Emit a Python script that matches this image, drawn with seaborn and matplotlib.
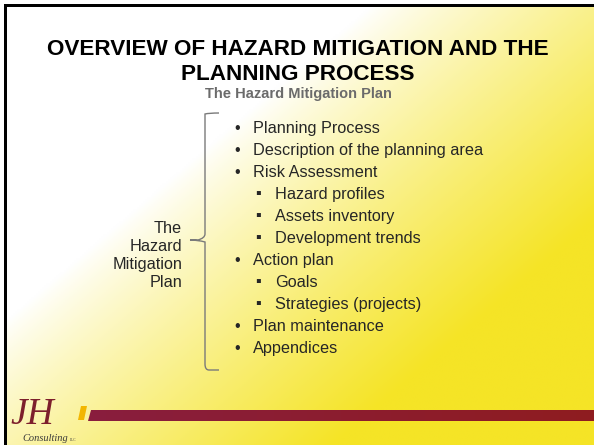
import numpy as np
import matplotlib
matplotlib.use("Agg")
import matplotlib.pyplot as plt
from matplotlib.patches import Polygon, Rectangle, PathPatch
from matplotlib.path import Path
import seaborn as sns

# slide content
TITLE_LINES = ["OVERVIEW OF HAZARD MITIGATION AND THE", "PLANNING PROCESS"]
SUBTITLE = "The Hazard Mitigation Plan"
LEFT_LABEL = ["The", "Hazard", "Mitigation", "Plan"]
ITEMS = ["Planning Process", "Description of the planning area", "Risk Assessment",
         "Hazard profiles", "Assets inventory", "Development trends", "Action plan",
         "Goals", "Strategies (projects)", "Plan maintenance", "Appendices"]
LEVELS = [0, 0, 0, 1, 1, 1, 0, 1, 1, 0, 0]

W, H = 594, 445
sns.set_style("white")
plt.rcParams['font.family'] = ['Liberation Sans', 'DejaVu Sans']

fig = plt.figure(figsize=(W / 100, H / 100), dpi=100)
ax = fig.add_axes([0, 0, 1, 1])
ax.set_xlim(0, W)
ax.set_ylim(H, 0)
ax.axis('off')

# white -> yellow background, lighter top-left
xx, yy = np.meshgrid(np.linspace(0, 1, 300), np.linspace(0, 1, 225))
s = 0.75 * xx + 0.65 * yy
t = np.clip((s - 0.47) / 0.6, 0, 1) ** 0.85
white = np.array([1.0, 1.0, 1.0])
yellow = np.array([245, 228, 38]) / 255
img = white[None, None, :] * (1 - t[..., None]) + yellow[None, None, :] * t[..., None]
ax.imshow(img, extent=[4, W, H, 4], aspect='auto', zorder=0)

# black frame on top and left
ax.add_patch(Rectangle((4, 4), W - 4, 3, color='black', lw=0, zorder=1))
ax.add_patch(Rectangle((4, 4), 3, H - 4, color='black', lw=0, zorder=1))

# titles
ax.text(298, 55, TITLE_LINES[0], ha='center', va='baseline', fontsize=16.2,
        fontweight='bold', color='black')
ax.text(298, 80, TITLE_LINES[1], ha='center', va='baseline', fontsize=16.2,
        fontweight='bold', color='black')
ax.text(298, 98, SUBTITLE, ha='center', va='baseline', fontsize=10.5,
        fontweight='bold', color='#6b6b6b')

# bullet list
y0, dy = 127, 22
for i, (item, lev) in enumerate(zip(ITEMS, LEVELS)):
    yb = y0 + dy * i + 6
    if lev == 0:
        ax.text(237, yb, "\u2022", ha='center', va='baseline', fontsize=11.7)
        ax.text(253, yb, item, ha='left', va='baseline', fontsize=11.7)
    else:
        ax.text(258, yb - 1, "\u25aa", ha='center', va='baseline', fontsize=11.7)
        ax.text(275, yb, item, ha='left', va='baseline', fontsize=11.7)

# left label
for i, line in enumerate(LEFT_LABEL):
    ax.text(182, 227 + 18 * i + 6, line, ha='right', va='baseline', fontsize=11.7)

# curly bracket
verts = [(219, 113), (209, 113), (205, 114), (205, 120),
         (205, 234), (205, 238), (198, 240), (190, 240),
         (198, 240), (205, 242), (205, 246),
         (205, 364), (205, 370), (209, 370), (219, 370)]
codes = [Path.MOVETO, Path.CURVE3, Path.CURVE3, Path.LINETO,
         Path.LINETO, Path.CURVE3, Path.CURVE3, Path.LINETO,
         Path.CURVE3, Path.CURVE3, Path.LINETO,
         Path.LINETO, Path.CURVE3, Path.CURVE3, Path.LINETO]
ax.add_patch(PathPatch(Path(verts, codes), fill=False, ec='#7a7a7a', lw=1.0, zorder=3))

# footer bar
bar = Polygon([(91, 410), (W, 410), (W, 421), (88, 421)], closed=True,
              fc='none', ec='none', zorder=2)
ax.add_patch(bar)
grad = np.linspace(0, 1, 256)[None, :]
c1 = np.array([137, 30, 62]) / 255
c2 = np.array([143, 28, 32]) / 255
bimg = c1[None, None, :] * (1 - grad[..., None]) + c2[None, None, :] * grad[..., None]
bi = ax.imshow(bimg, extent=[88, W, 421, 410], aspect='auto', zorder=2)
bi.set_clip_path(bar)
ax.add_patch(Polygon([(81, 406), (87, 406), (84, 420), (78, 420)], closed=True,
                     fc='#f2b600', ec='none', zorder=2))

# logo
ax.text(10, 424, "JH", ha='left', va='baseline', fontsize=27, style='italic',
        family=['Liberation Serif', 'DejaVu Serif'], color='#7d1f2c', zorder=3)
ax.text(22, 441, "Consulting", ha='left', va='baseline', fontsize=7.5, style='italic',
        family=['Liberation Serif', 'DejaVu Serif'], color='#3a3a3a', zorder=4)
ax.text(70, 441, "LLC", ha='left', va='baseline', fontsize=2.5,
        family=['Liberation Serif', 'DejaVu Serif'], color='#3a3a3a', zorder=4)

fig.savefig("out.png", dpi=100)
